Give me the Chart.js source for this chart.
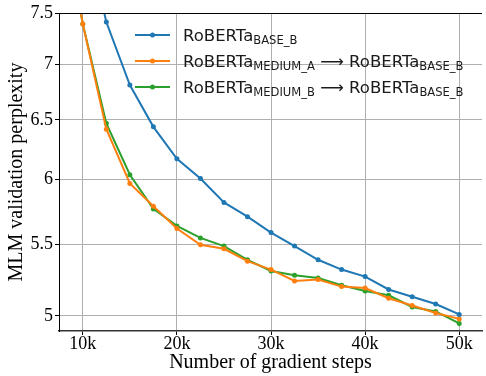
<!DOCTYPE html>
<html>
<head>
<meta charset="utf-8">
<script src="https://cdn.jsdelivr.net/npm/chart.js@4"></script>
<style>
  html, body { margin: 0; padding: 0; background: #fff; overflow: hidden; }
  canvas { display: block; }
</style>
</head>
<body>
<canvas id="grafico" width="486" height="376"></canvas>
<script>
// pasos de entrenamiento (eje x)
const pasos = [7500, 10000, 12500, 15000, 17500, 20000, 22500, 25000, 27500, 30000,
               32500, 35000, 37500, 40000, 42500, 45000, 47500, 50000]

// perplejidad de validacion por serie
const base_b = [null, 8.5, 7.41, 6.81, 6.44, 6.17, 6.01, 5.82, 5.71, 5.59,
                5.49, 5.39, 5.32, 5.27, 5.18, 5.13, 5.08, 5.01]
const medium_a = [8.8, 7.39, 6.42, 5.97, 5.79, 5.62, 5.50, 5.47, 5.38, 5.32,
                  5.24, 5.25, 5.20, 5.19, 5.12, 5.07, 5.02, 4.98]
const medium_b = [8.8, 7.39, 6.47, 6.04, 5.77, 5.64, 5.55, 5.49, 5.39, 5.31,
                  5.28, 5.26, 5.21, 5.17, 5.14, 5.06, 5.03, 4.95]

const ticks_x = [10000, 20000, 30000, 40000, 50000]
const ticks_y = [5, 5.5, 6, 6.5, 7, 7.5]

const colores = ["#1f77b4", "#ff7f0e", "#2ca02c"]

// leyenda: cada entrada es una lista de trozos [texto, esSubindice]
const leyenda = [
  [["RoBERTa", false], ["BASE_B", true]],
  [["RoBERTa", false], ["MEDIUM_A", true], [" \u27F6 ", false], ["RoBERTa", false], ["BASE_B", true]],
  [["RoBERTa", false], ["MEDIUM_B", true], [" \u27F6 ", false], ["RoBERTa", false], ["BASE_B", true]]
]

const serie = (datos, color) => ({
  data: pasos.map((x, i) => ({ x: x, y: datos[i] })),
  borderColor: color,
  backgroundColor: color,
  borderWidth: 2,
  pointRadius: 2.5,
  pointBorderWidth: 0,
  pointBackgroundColor: color,
  tension: 0,
  clip: 0,
  spanGaps: false
})

const marcoPlugin = {
  id: "marco",
  afterDatasetsDraw(chart) {
    const { ctx, chartArea } = chart
    ctx.save()
    // borde superior
    ctx.strokeStyle = "black"
    ctx.lineWidth = 1
    ctx.beginPath()
    ctx.moveTo(chartArea.left, chartArea.top + 0.5)
    ctx.lineTo(chartArea.right, chartArea.top + 0.5)
    ctx.stroke()

    // leyenda con subindices
    const x0 = 135, x1 = 170, xt = 183
    const y0 = 35, paso = 26
    leyenda.forEach((trozos, i) => {
      const y = y0 + i * paso
      ctx.strokeStyle = colores[i]
      ctx.lineWidth = 2
      ctx.beginPath()
      ctx.moveTo(x0, y)
      ctx.lineTo(x1, y)
      ctx.stroke()
      ctx.fillStyle = colores[i]
      ctx.beginPath()
      ctx.arc((x0 + x1) / 2, y, 2.5, 0, Math.PI * 2)
      ctx.fill()

      let x = xt
      const base = y + 6
      ctx.fillStyle = "#1a1a1a"
      ctx.textBaseline = "alphabetic"
      ctx.textAlign = "left"
      trozos.forEach(([t, sub]) => {
        ctx.font = sub ? "11.55px 'DejaVu Sans'" : "16.5px 'DejaVu Sans'"
        ctx.fillText(t, x, sub ? base + 3 : base)
        x += ctx.measureText(t).width
      })
    })
    ctx.restore()
  }
}

const config = {
  type: "line",
  data: {
    datasets: [
      serie(base_b, colores[0]),
      serie(medium_a, colores[1]),
      serie(medium_b, colores[2])
    ]
  },
  options: {
    responsive: false,
    animation: false,
    devicePixelRatio: 1,
    layout: { padding: { top: 13, right: 0, left: 0, bottom: 0 } },
    plugins: { legend: { display: false }, tooltip: { enabled: false } },
    scales: {
      x: {
        type: "linear",
        min: 7470,
        max: 52420,
        afterBuildTicks: (s) => { s.ticks = ticks_x.map(v => ({ value: v })) },
        afterFit: (s) => { s.height = 45 },
        ticks: {
          color: "black",
          font: { family: "'Liberation Serif'", size: 18 },
          padding: -2,
          maxRotation: 0,
          callback: (v) => (v / 1000) + "k"
        },
        grid: { color: "#b0b0b0", lineWidth: 1, tickLength: 4, tickColor: "black" },
        border: { color: "#333", width: 1.5 },
        title: {
          display: true,
          text: "Number of gradient steps",
          color: "black",
          font: { family: "'Liberation Serif'", size: 20, lineHeight: 1.2 },
          padding: { top: 0, bottom: 1 }
        }
      },
      y: {
        type: "logarithmic",
        min: 4.9,
        max: 7.5,
        afterBuildTicks: (s) => { s.ticks = ticks_y.map(v => ({ value: v })) },
        afterFit: (s) => { s.width = 59 },
        ticks: {
          color: "black",
          font: { family: "'Liberation Serif'", size: 18 },
          padding: 2,
          callback: (v) => String(v)
        },
        grid: { color: "#b0b0b0", lineWidth: 1, tickLength: 4, tickColor: "black" },
        border: { color: "black", width: 1 },
        title: {
          display: true,
          text: "MLM validation perplexity",
          color: "black",
          font: { family: "'Liberation Serif'", size: 20, lineHeight: 1.2 },
          padding: { top: 5, bottom: 0 }
        }
      }
    }
  },
  plugins: [marcoPlugin]
}

const canva = document.getElementById("grafico").getContext("2d")
window.miGrafico = new Chart(canva, config)
</script>
</body>
</html>
